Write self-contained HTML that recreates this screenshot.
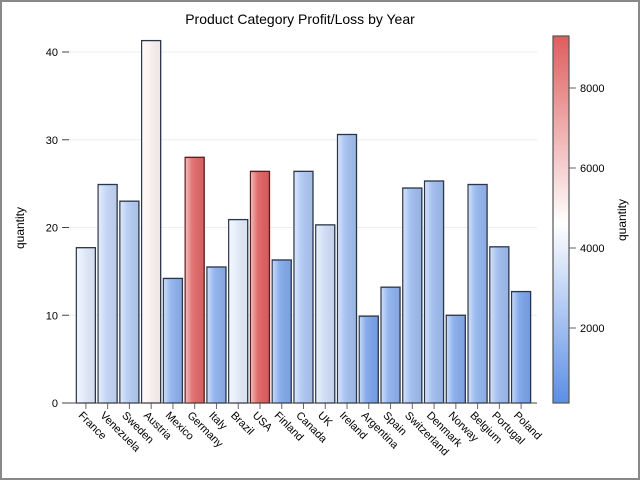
<!DOCTYPE html>
<html><head><meta charset="utf-8"><style>
body{margin:0;background:#fff}
svg{display:block;font-family:"Liberation Sans",sans-serif}
</style></head><body>
<svg id="c" width="640" height="481">
<defs>
<linearGradient id="cb" x1="0" y1="1" x2="0" y2="0">
<stop offset="0" stop-color="#5b8ee6"/><stop offset="0.49" stop-color="#ffffff"/><stop offset="1" stop-color="#df5d5d"/>
</linearGradient>
<linearGradient id="shade" x1="0" x2="1" y1="0" y2="0">
<stop offset="0" stop-color="#fff" stop-opacity="0.55"/><stop offset="0.35" stop-color="#fff" stop-opacity="0.1"/><stop offset="1" stop-color="#000" stop-opacity="0.05"/>
</linearGradient>
</defs>
<rect x="1" y="1" width="638" height="478" fill="#fff" stroke="#888" stroke-width="2"/>
<text x="300" y="24" text-anchor="middle" font-size="14">Product Category Profit/Loss by Year</text>
<g id="plot"></g>
</svg>
<script>
const categories=["France","Venezuela","Sweden","Austria","Mexico","Germany","Italy","Brazil","USA","Finland","Canada","UK","Ireland","Argentina","Spain","Switzerland","Denmark","Norway","Belgium","Portugal","Poland"];
const quantities=[17.7,24.9,23.0,41.3,14.2,28.0,15.5,20.9,26.4,16.3,26.4,20.3,30.6,9.9,13.2,24.5,25.3,10.0,24.9,17.8,12.7];
const colorValues=[3800,3000,2600,5000,1500,9000,1500,3900,9200,1200,2400,3300,2100,1000,1500,2000,2000,1300,1700,2000,1000];
const yTicks=[0,10,20,30,40];
const cTicks=[2000,4000,6000,8000];
const cMin=125,cMax=9300;
const NS="http://www.w3.org/2000/svg";
const g=document.getElementById('plot');
function el(t,a,p){const e=document.createElementNS(NS,t);for(const k in a)e.setAttribute(k,a[k]);(p||g).appendChild(e);return e;}
const X0=75,X1=532,Y0=403,Y1=52;
const band=(X1-X0)/categories.length;
const y=v=>Y0-(v/40)*(Y0-Y1);
const x=i=>X0+band*i+band/2;
const cy=v=>403-(v-cMin)/(cMax-cMin)*(403-36);
function lerp(a,b,t){return a.map((v,i)=>Math.round(v+(b[i]-v)*t));}
function color(v){const t=(v-cMin)/(cMax-cMin);const b=[91,142,230],w=[255,255,255],r=[223,93,93];const c=t<0.49?lerp(b,w,t/0.49):lerp(w,r,(t-0.49)/0.51);return `rgb(${c})`;}
yTicks.forEach(v=>{
 if(v>0){const l=el('line',{x1:69,x2:537,y1:y(v),y2:y(v),stroke:'#eee'});}
 const t=el('line',{x1:62,x2:69,y1:y(v),y2:y(v),stroke:'#444'});
 const tx=el('text',{x:58,y:y(v)+4,'text-anchor':'end','font-size':11});tx.textContent=v;
});
categories.forEach((c,i)=>{
 const h=Y0-y(quantities[i]);
 const r=el('rect',{x:x(i)-9.5,y:y(quantities[i]),width:19,height:h,fill:color(colorValues[i]),stroke:colorValues[i]>7000?'#5a1a1a':'#2a3548','stroke-width':1.3});
 
 const s=el('rect',{x:x(i)-9,y:y(quantities[i])+1,width:18,height:Math.max(0,h-1),fill:'url(#shade)'});
 
 const t=el('line',{x1:x(i),x2:x(i),y1:Y0,y2:Y0+6,stroke:'#666'});
 const tx=el('text',{x:x(i)-8,y:Y0+13,'font-size':11,transform:`rotate(45 ${x(i)-8} ${Y0+13})`});tx.textContent=c;
 
});
let a=el('line',{x1:63,x2:537,y1:Y0,y2:Y0,stroke:'#444'});
let yt=el('text',{x:24,y:228,'text-anchor':'middle','font-size':12,transform:'rotate(-90 24 228)'});yt.textContent='quantity';
let cb=el('rect',{x:553,y:36,width:16,height:367,fill:'url(#cb)',stroke:'#555','stroke-width':1.2});
cTicks.forEach(v=>{
 const t=el('line',{x1:569,x2:576,y1:cy(v),y2:cy(v),stroke:'#666'});
 const tx=el('text',{x:580,y:cy(v)+4,'font-size':11});tx.textContent=v;
});
let ct=el('text',{x:626,y:220,'text-anchor':'middle','font-size':12,transform:'rotate(-90 626 220)'});ct.textContent='quantity';
</script>
</body></html>
